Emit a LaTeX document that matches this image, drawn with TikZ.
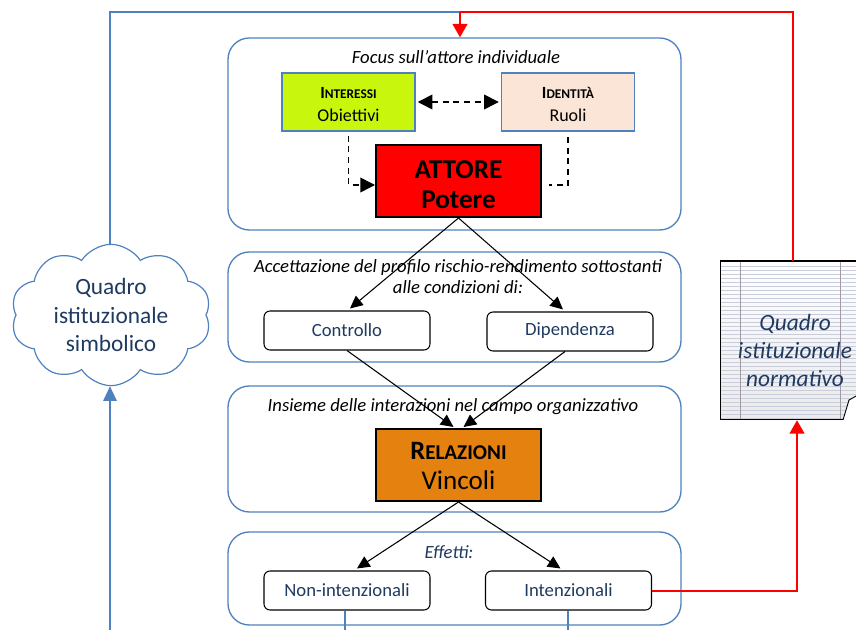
\documentclass[tikz,border=0pt]{standalone}
\usepackage{fontspec}
\setmainfont{Carlito}
\usetikzlibrary{arrows.meta,shapes.symbols,calc,fit}

\definecolor{frameblue}{HTML}{4F81BD}
\definecolor{limefill}{HTML}{C8F70D}
\definecolor{peachfill}{HTML}{FBE5D6}
\definecolor{orangefill}{HTML}{E4810F}
\definecolor{navytext}{HTML}{1F3A60}
\definecolor{paperline}{HTML}{C9CDD9}
\definecolor{marginline}{HTML}{A39AA8}
\definecolor{linkred}{HTML}{FF0000}

\tikzset{
  group/.style={draw=frameblue, line width=1pt, rounded corners=16pt, inner sep=0pt},
  grouptitle/.style={font=\fontsize{14}{16}\selectfont\itshape, align=center, inner sep=0pt},
  keybox/.style={draw=frameblue, line width=1.1pt, minimum width=99.75pt, minimum height=43.5pt,
    align=center, inner sep=0pt},
  corebox/.style={draw=black, line width=1.5pt, minimum width=123.75pt, minimum height=54pt,
    inner sep=0pt},
  coretext/.style={align=center, inner sep=0pt},
  itembox/.style={draw=black, line width=0.8pt, rounded corners=4.5pt, minimum width=124.5pt,
    minimum height=29.25pt, align=center, inner sep=0pt, text=navytext,
    font=\fontsize{14}{16}\selectfont},
  flow/.style={draw=black, line width=0.8pt, -{Triangle[length=9.5pt,width=9pt]}},
  dashflow/.style={draw=black, line width=1.2pt, dash pattern=on 4.5pt off 3.5pt},
  dashtip/.style={-{Triangle[length=11pt,width=11pt]}},
  blueline/.style={draw=frameblue, line width=1.5pt},
  redline/.style={draw=linkred, line width=1.5pt},
  bluetip/.style={-{Triangle[length=11pt,width=10pt]}},
  redtip/.style={-{Triangle[length=10pt,width=11pt]}},
}

\newcommand{\fakesc}[4]{{\fontsize{#1}{#1}\selectfont #3}{\fontsize{#2}{#2}\selectfont #4}}

\begin{document}
\begin{tikzpicture}[x=0.75pt,y=-0.75pt]
\useasboundingbox (0,0) rectangle (856,630);

% ---- four stage frames ----
\node[group, fit={(228,38)(681,230)}] (g1) {};
\node[group, fit={(228,252)(681,362)}] (g2) {};
\node[group, fit={(228,386)(681,512)}] (g3) {};
\node[group, fit={(228,532)(681,625)}] (g4) {};

\node[grouptitle] (t1) at (456,57) {Focus sull’attore individuale};
\node[grouptitle, font=\fontsize{14}{15.75}\selectfont\itshape] (t2) at (458,277)
  {Accettazione del profilo rischio-rendimento sottostanti\\alle condizioni di:};
\node[grouptitle] (t3) at (453,407) {Insieme delle interazioni nel campo organizzativo};
\node[grouptitle, text=navytext] (t4) at (449,552) {Effetti:};

% ---- individual actor ----
\node[keybox, fill=limefill] (inter) at (348.5,102) {};
\node[coretext] (intertxt) at (348.5,104.5)
  {\bfseries\fakesc{12.8}{10}{I}{NTERESSI}\\[5pt]{\fontsize{13.5}{16}\selectfont Obiettivi}};
\node[keybox, fill=peachfill] (ident) at (568,102) {};
\node[coretext] (identtxt) at (568,104.5)
  {\bfseries\fakesc{12.8}{10}{I}{DENTITÀ}\\[5pt]{\fontsize{13.5}{16}\selectfont Ruoli}};
\node[corebox, fill=linkred] (attore) at (458.5,181) {};
\node[coretext, font=\fontsize{20.4}{22.5}\selectfont\bfseries] (attoretxt) at (458.5,185)
  {ATTORE\\Potere};

% ---- conditions ----
\node[itembox] (ctrl) at (347,330.5) {Controllo};
\node[itembox] (dip) at (570,331.5) {\raisebox{3pt}{Dipendenza}};

% ---- relations ----
\node[corebox, fill=orangefill] (rel) at (458.5,465) {};
\node[coretext] (reltxt) at (458.5,466)
  {\bfseries\fakesc{19.9}{15.8}{R}{ELAZIONI}\\[8pt]{\fontsize{20.3}{22}\selectfont Vincoli}};

% ---- effects ----
\node[itembox] (nonint) at (347,590.5) {Non-intenzionali};
\node[itembox] (intenz) at (568.5,590.5) {Intenzionali};

% ---- symbolic framework (cloud) ----
\node[cloud, cloud puffs=10, cloud puff arc=115, aspect=1.45, draw=frameblue, line width=0.9pt,
  minimum width=150pt, minimum height=106pt, inner sep=0pt, align=center, text=navytext,
  font=\fontsize{17.5}{21.4}\selectfont] (cloud) at (111,315)
  {Quadro\\istituzionale\\simbolico};

% ---- normative framework (lined note sheet) ----
\node[inner sep=0pt, fit={(720,261)(866,420)}] (note) {};
\begin{scope}
  \clip (720,261) rectangle (856,420);
  \shade[top color=white, bottom color=black!8] (720,261) rectangle (866,420);
  \foreach \yy in {266,270,...,418} \draw[paperline, line width=0.5pt] (720,\yy) -- (866,\yy);
  \draw[marginline, line width=0.5pt] (740,261) -- (740,420);
  \draw[marginline, line width=0.5pt] (840,261) -- (840,420);
  \fill[white] (843,420) .. controls (846,410) .. (849,400) -- (858,395) -- (858,421) -- cycle;
  \draw[black, line width=0.7pt] (843,420) .. controls (846,410) .. (849,400) -- (858,395);
  \draw[black, line width=1.1pt] (866,261) -- (720,261) -- (720,420) -- (843,420);
\end{scope}
\node[align=center, text=navytext, inner sep=0pt, font=\fontsize{17.5}{21}\selectfont\itshape]
  (notetext) at (795,350) {Quadro\\istituzionale\\normativo};

% ---- links inside the actor frame ----
\draw[dashflow, dashtip] ([yshift=-3pt]inter.south) |- ($(attore.west)+(0,4)$);
\draw[dashflow, shorten >=5pt] ([yshift=-4pt]ident.south) |- ($(attore.east)+(0,4)$);
\draw[dashflow, {Triangle[length=11pt,width=11pt]}-{Triangle[length=11pt,width=11pt]},
  shorten <=1.5pt, shorten >=1.5pt] (inter.east) -- (ident.west);

% ---- causal arrows ----
\draw[flow] (attore.south) -- ($(ctrl.north)+(3,-2)$);
\draw[flow] (attore.south) -- ($(dip.north)+(-7,-2)$);
\draw[flow] (ctrl.south) -- ($(rel.north)+(-5,-1)$);
\draw[flow] ($(dip.south)+(-5,0)$) -- ($(rel.north)+(5,-1)$);
\draw[flow] (rel.south) -- ($(nonint.north)+(10,-2)$);
\draw[flow] (rel.south) -- ($(intenz.north)+(-8,-2)$);

% ---- feedback loops ----
\coordinate (topjoin) at (460,12);
\coordinate (cloudfoot) at (110,630);
\coordinate (nonfoot) at (345,630);
\coordinate (intfoot) at (568,630);
\draw[blueline] (cloud.north -| cloudfoot) -- (cloudfoot |- topjoin) -- (topjoin);
\draw[redline] (note.north) |- (topjoin);
\draw[redline, redtip] (topjoin) -- (topjoin |- g1.north);
\draw[blueline, bluetip] (cloudfoot) -- (cloud.south -| cloudfoot);
\draw[blueline] (nonint.south -| nonfoot) -- (nonfoot);
\draw[blueline] (intenz.south -| intfoot) -- (intfoot);
\draw[redline, redtip] (intenz.east) -| ($(note.south)+(4,0)$);
\end{tikzpicture}
\end{document}
